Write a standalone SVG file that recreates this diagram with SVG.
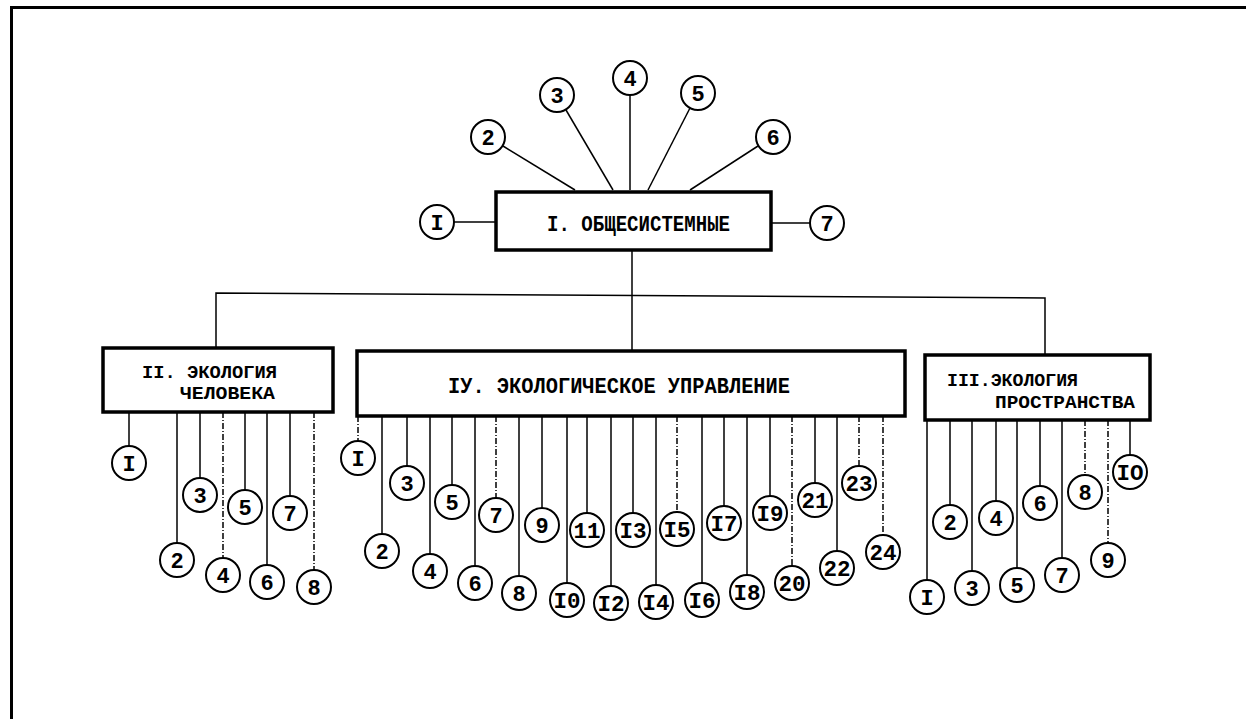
<svg xmlns="http://www.w3.org/2000/svg" width="1246" height="719" viewBox="0 0 1246 719">
<style>
.frame{fill:none;stroke:#000;stroke-width:3}
.box{fill:#fff;stroke:#000;stroke-width:3.5}
.ln{stroke:#000;stroke-width:1.5;fill:none}
.dash{stroke-dasharray:6 2 1 2}
.c{fill:#fff;stroke:#000;stroke-width:2}
.n{font-family:"Liberation Mono","DejaVu Sans Mono",monospace;font-size:22px;font-weight:bold;text-anchor:middle;fill:#000}
.t{font-family:"Liberation Mono","DejaVu Sans Mono",monospace;font-size:22px;font-weight:bold;fill:#000}
.t2{font-family:"Liberation Mono","DejaVu Sans Mono",monospace;font-size:18px;font-weight:bold;fill:#000}
</style>
<rect width="1246" height="719" fill="#fff"/>
<path class="frame" d="M11.5,719 V7.5 H1246"/>

<g id="connectors">
<line class="ln" x1="454" y1="222" x2="496" y2="222"/>
<line class="ln" x1="771" y1="223" x2="810" y2="223"/>
<line class="ln" x1="503" y1="146" x2="575" y2="190"/>
<line class="ln" x1="566" y1="110" x2="613" y2="190"/>
<line class="ln" x1="630" y1="95" x2="630" y2="190"/>
<line class="ln" x1="690" y1="108" x2="648" y2="190"/>
<line class="ln" x1="758" y1="146" x2="690" y2="190"/>
<line class="ln" x1="632" y1="250" x2="632" y2="351"/>
<polyline class="ln" points="216,348 216,293 1045,298 1045,355"/>
<line class="ln" x1="129" y1="412" x2="129" y2="446"/>
<line class="ln" x1="177" y1="412" x2="177" y2="543"/>
<line class="ln" x1="200" y1="412" x2="200" y2="478"/>
<line class="ln dash" x1="223" y1="412" x2="223" y2="558"/>
<line class="ln" x1="245" y1="412" x2="245" y2="490"/>
<line class="ln" x1="267" y1="412" x2="267" y2="565"/>
<line class="ln" x1="290" y1="412" x2="290" y2="496"/>
<line class="ln dash" x1="314" y1="412" x2="314" y2="570"/>
<line class="ln dash" x1="358" y1="416" x2="358" y2="441"/>
<line class="ln" x1="382" y1="416" x2="382" y2="534"/>
<line class="ln" x1="407" y1="416" x2="407" y2="466"/>
<line class="ln" x1="430" y1="416" x2="430" y2="554"/>
<line class="ln" x1="452" y1="416" x2="452" y2="485"/>
<line class="ln" x1="475" y1="416" x2="475" y2="566"/>
<line class="ln dash" x1="496" y1="416" x2="496" y2="498"/>
<line class="ln" x1="519" y1="416" x2="519" y2="576"/>
<line class="ln" x1="542" y1="416" x2="542" y2="508"/>
<line class="ln" x1="567" y1="416" x2="567" y2="583"/>
<line class="ln" x1="587" y1="416" x2="587" y2="513"/>
<line class="ln" x1="611" y1="416" x2="611" y2="586"/>
<line class="ln" x1="633" y1="416" x2="633" y2="513"/>
<line class="ln" x1="656" y1="416" x2="656" y2="585"/>
<line class="ln dash" x1="677" y1="416" x2="677" y2="512"/>
<line class="ln" x1="702" y1="416" x2="702" y2="583"/>
<line class="ln" x1="724" y1="416" x2="724" y2="506"/>
<line class="ln" x1="747" y1="416" x2="747" y2="575"/>
<line class="ln" x1="770" y1="416" x2="770" y2="496"/>
<line class="ln dash" x1="792" y1="416" x2="792" y2="566"/>
<line class="ln" x1="815" y1="416" x2="815" y2="483"/>
<line class="ln" x1="837" y1="416" x2="837" y2="551"/>
<line class="ln dash" x1="859" y1="416" x2="859" y2="466"/>
<line class="ln dash" x1="883" y1="416" x2="883" y2="535"/>
<line class="ln" x1="927" y1="420" x2="927" y2="580"/>
<line class="ln" x1="950" y1="420" x2="950" y2="505"/>
<line class="ln" x1="972" y1="420" x2="972" y2="571"/>
<line class="ln" x1="996" y1="420" x2="996" y2="501"/>
<line class="ln" x1="1017" y1="420" x2="1017" y2="568"/>
<line class="ln" x1="1040" y1="420" x2="1040" y2="486"/>
<line class="ln" x1="1062" y1="420" x2="1062" y2="558"/>
<line class="ln dash" x1="1085" y1="420" x2="1085" y2="475"/>
<line class="ln dash" x1="1108" y1="420" x2="1108" y2="543"/>
<line class="ln" x1="1130" y1="420" x2="1130" y2="455"/>
</g>

<g id="box-I">
<rect class="box" x="496" y="192" width="275" height="58"/>
<text class="t" x="547" y="231" textLength="183" lengthAdjust="spacingAndGlyphs">I. ОБЩЕСИСТЕМНЫЕ</text>
</g>
<g id="box-II">
<rect class="box" x="103" y="348" width="230" height="64"/>
<text class="t2" x="142" y="378" textLength="135" lengthAdjust="spacingAndGlyphs">II. ЭКОЛОГИЯ</text>
<text class="t2" x="180" y="399" textLength="95" lengthAdjust="spacingAndGlyphs">ЧЕЛОВЕКА</text>
</g>
<g id="box-IV">
<rect class="box" x="357" y="351" width="548" height="65"/>
<text class="t" x="448" y="393" textLength="342" lengthAdjust="spacingAndGlyphs">IУ. ЭКОЛОГИЧЕСКОЕ  УПРАВЛЕНИЕ</text>
</g>
<g id="box-III">
<rect class="box" x="925" y="355" width="225" height="65"/>
<text class="t2" x="947" y="386" textLength="131" lengthAdjust="spacingAndGlyphs">III.ЭКОЛОГИЯ</text>
<text class="t2" x="995" y="408" textLength="140" lengthAdjust="spacingAndGlyphs">ПРОСТРАНСТВА</text>
</g>

<g id="top-circles">
<g id="t1"><circle class="c" cx="437" cy="222" r="17"/><text class="n" x="437" y="230">I</text></g>
<g id="t2"><circle class="c" cx="488" cy="137" r="17"/><text class="n" x="488" y="145">2</text></g>
<g id="t3"><circle class="c" cx="557" cy="95" r="17"/><text class="n" x="557" y="103">3</text></g>
<g id="t4"><circle class="c" cx="630" cy="78" r="17"/><text class="n" x="630" y="86">4</text></g>
<g id="t5"><circle class="c" cx="698" cy="93" r="17"/><text class="n" x="698" y="101">5</text></g>
<g id="t6"><circle class="c" cx="773" cy="137" r="17"/><text class="n" x="773" y="145">6</text></g>
<g id="t7"><circle class="c" cx="827" cy="223" r="17"/><text class="n" x="827" y="231">7</text></g>
</g>

<g id="II-circles">
<g id="h1"><circle class="c" cx="129" cy="463" r="17"/><text class="n" x="129" y="471">I</text></g>
<g id="h2"><circle class="c" cx="177" cy="560" r="17"/><text class="n" x="177" y="568">2</text></g>
<g id="h3"><circle class="c" cx="200" cy="495" r="17"/><text class="n" x="200" y="503">3</text></g>
<g id="h4"><circle class="c" cx="223" cy="575" r="17"/><text class="n" x="223" y="583">4</text></g>
<g id="h5"><circle class="c" cx="245" cy="507" r="17"/><text class="n" x="245" y="515">5</text></g>
<g id="h6"><circle class="c" cx="267" cy="582" r="17"/><text class="n" x="267" y="590">6</text></g>
<g id="h7"><circle class="c" cx="290" cy="513" r="17"/><text class="n" x="290" y="521">7</text></g>
<g id="h8"><circle class="c" cx="314" cy="587" r="17"/><text class="n" x="314" y="595">8</text></g>
</g>

<g id="IV-circles">
<g id="m1"><circle class="c" cx="358" cy="458" r="17"/><text class="n" x="358" y="466">I</text></g>
<g id="m2"><circle class="c" cx="382" cy="551" r="17"/><text class="n" x="382" y="559">2</text></g>
<g id="m3"><circle class="c" cx="407" cy="483" r="17"/><text class="n" x="407" y="491">3</text></g>
<g id="m4"><circle class="c" cx="430" cy="571" r="17"/><text class="n" x="430" y="579">4</text></g>
<g id="m5"><circle class="c" cx="452" cy="502" r="17"/><text class="n" x="452" y="510">5</text></g>
<g id="m6"><circle class="c" cx="475" cy="583" r="17"/><text class="n" x="475" y="591">6</text></g>
<g id="m7"><circle class="c" cx="496" cy="515" r="17"/><text class="n" x="496" y="523">7</text></g>
<g id="m8"><circle class="c" cx="519" cy="593" r="17"/><text class="n" x="519" y="601">8</text></g>
<g id="m9"><circle class="c" cx="542" cy="525" r="17"/><text class="n" x="542" y="533">9</text></g>
<g id="m10"><circle class="c" cx="567" cy="600" r="17"/><text class="n" x="567" y="608" textLength="27" lengthAdjust="spacingAndGlyphs">I0</text></g>
<g id="m11"><circle class="c" cx="587" cy="530" r="17"/><text class="n" x="587" y="538" textLength="27" lengthAdjust="spacingAndGlyphs">11</text></g>
<g id="m12"><circle class="c" cx="611" cy="603" r="17"/><text class="n" x="611" y="611" textLength="27" lengthAdjust="spacingAndGlyphs">I2</text></g>
<g id="m13"><circle class="c" cx="633" cy="530" r="17"/><text class="n" x="633" y="538" textLength="27" lengthAdjust="spacingAndGlyphs">I3</text></g>
<g id="m14"><circle class="c" cx="656" cy="602" r="17"/><text class="n" x="656" y="610" textLength="27" lengthAdjust="spacingAndGlyphs">I4</text></g>
<g id="m15"><circle class="c" cx="677" cy="529" r="17"/><text class="n" x="677" y="537" textLength="27" lengthAdjust="spacingAndGlyphs">I5</text></g>
<g id="m16"><circle class="c" cx="702" cy="600" r="17"/><text class="n" x="702" y="608" textLength="27" lengthAdjust="spacingAndGlyphs">I6</text></g>
<g id="m17"><circle class="c" cx="724" cy="523" r="17"/><text class="n" x="724" y="531" textLength="27" lengthAdjust="spacingAndGlyphs">I7</text></g>
<g id="m18"><circle class="c" cx="747" cy="592" r="17"/><text class="n" x="747" y="600" textLength="27" lengthAdjust="spacingAndGlyphs">I8</text></g>
<g id="m19"><circle class="c" cx="770" cy="513" r="17"/><text class="n" x="770" y="521" textLength="27" lengthAdjust="spacingAndGlyphs">I9</text></g>
<g id="m20"><circle class="c" cx="792" cy="583" r="17"/><text class="n" x="792" y="591" textLength="27" lengthAdjust="spacingAndGlyphs">20</text></g>
<g id="m21"><circle class="c" cx="815" cy="500" r="17"/><text class="n" x="815" y="508" textLength="27" lengthAdjust="spacingAndGlyphs">21</text></g>
<g id="m22"><circle class="c" cx="837" cy="568" r="17"/><text class="n" x="837" y="576" textLength="27" lengthAdjust="spacingAndGlyphs">22</text></g>
<g id="m23"><circle class="c" cx="859" cy="483" r="17"/><text class="n" x="859" y="491" textLength="27" lengthAdjust="spacingAndGlyphs">23</text></g>
<g id="m24"><circle class="c" cx="883" cy="552" r="17"/><text class="n" x="883" y="560" textLength="27" lengthAdjust="spacingAndGlyphs">24</text></g>
</g>

<g id="III-circles">
<g id="s1"><circle class="c" cx="927" cy="597" r="17"/><text class="n" x="927" y="605">I</text></g>
<g id="s2"><circle class="c" cx="950" cy="522" r="17"/><text class="n" x="950" y="530">2</text></g>
<g id="s3"><circle class="c" cx="972" cy="588" r="17"/><text class="n" x="972" y="596">3</text></g>
<g id="s4"><circle class="c" cx="996" cy="518" r="17"/><text class="n" x="996" y="526">4</text></g>
<g id="s5"><circle class="c" cx="1017" cy="585" r="17"/><text class="n" x="1017" y="593">5</text></g>
<g id="s6"><circle class="c" cx="1040" cy="503" r="17"/><text class="n" x="1040" y="511">6</text></g>
<g id="s7"><circle class="c" cx="1062" cy="575" r="17"/><text class="n" x="1062" y="583">7</text></g>
<g id="s8"><circle class="c" cx="1085" cy="492" r="17"/><text class="n" x="1085" y="500">8</text></g>
<g id="s9"><circle class="c" cx="1108" cy="560" r="17"/><text class="n" x="1108" y="568">9</text></g>
<g id="s10"><circle class="c" cx="1130" cy="472" r="17"/><text class="n" x="1130" y="480" textLength="27" lengthAdjust="spacingAndGlyphs">IO</text></g>
</g>
</svg>
